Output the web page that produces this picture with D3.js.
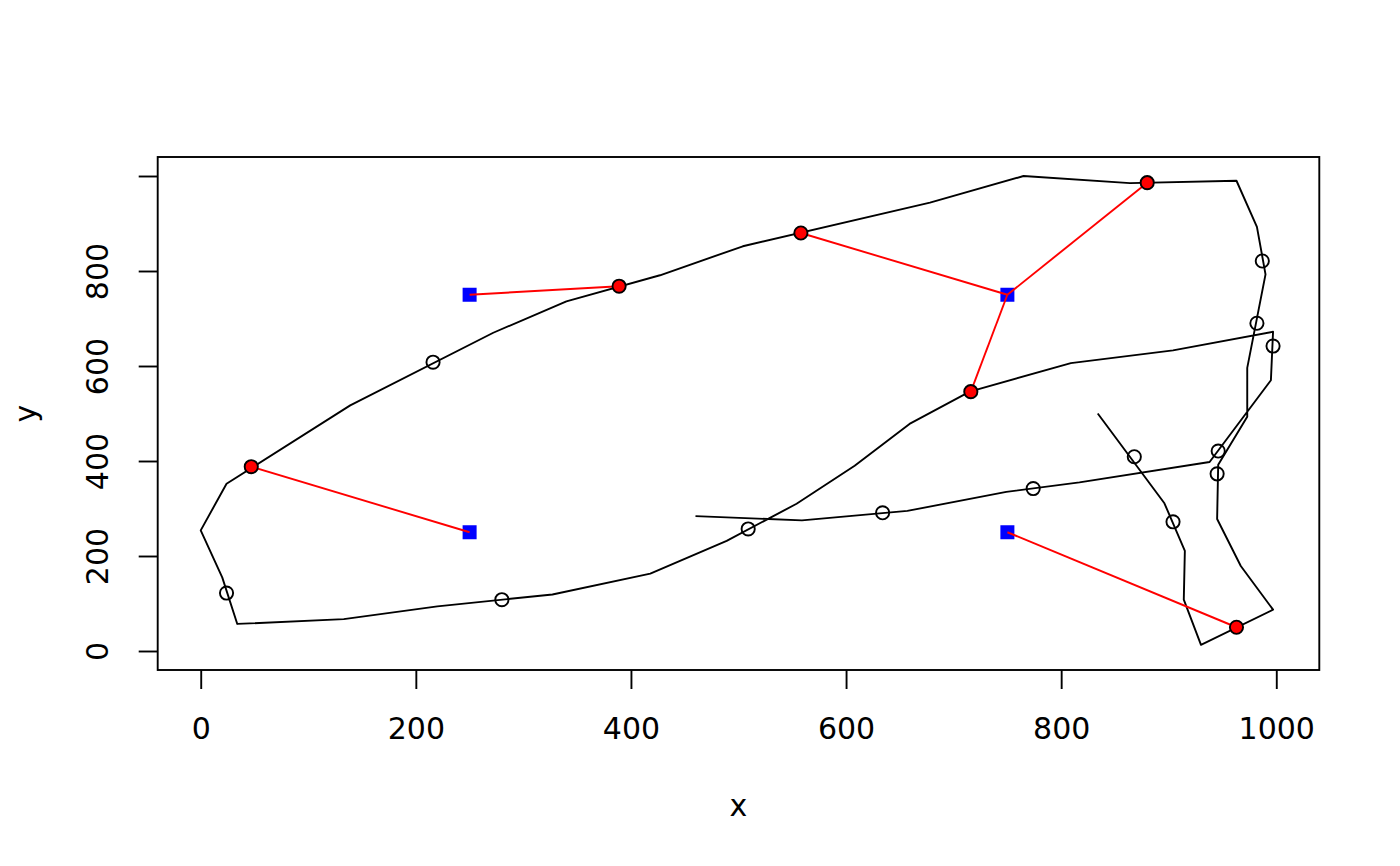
<!DOCTYPE html>
<html>
<head>
<meta charset="utf-8">
<script src="https://cdn.jsdelivr.net/npm/d3@7"></script>
<style>
	body { margin: 0; background: #fff; }
	svg text { font-family: "DejaVu Sans", sans-serif; font-size: 30px; fill: #000; }
</style>
</head>
<body>
<div id="chart"></div>
<script>
// the line, in drawing order
let pathX = [460, 559, 657, 749, 817, 938, 995, 997, 904, 809, 715, 659, 608, 554, 489, 418, 327, 220, 133, 34, 20, 0, 24, 139, 272, 340, 427, 504, 678, 765, 864, 963, 982, 990, 973, 973, 946, 945, 967, 997, 930, 914, 915, 896, 834];
let pathY = [284, 275, 295, 335, 355, 398, 570, 672, 633, 606, 546, 478, 390, 310, 232, 163, 119, 94, 67, 57, 155, 254, 352, 517, 670, 736, 791, 852, 944, 1000, 985, 990, 893, 793, 596, 493, 392, 278, 179, 87, 13, 108, 211, 311, 500];

// open circles sampled along the line
let sampleX = [634, 774, 946, 997, 509, 280, 24, 216, 987, 982, 945, 904, 868];
let sampleY = [291, 342, 421, 642, 257, 108, 122, 608, 821, 690, 373, 272, 409];

// query points (blue squares)
let queryX = [250, 250, 750, 750];
let queryY = [250, 750, 250, 750];

// nearest points on the line (red) and the query each one belongs to
let nearX = [47, 389, 963, 558, 716, 880];
let nearY = [388, 768, 50, 880, 546, 986];
let nearFrom = [0, 1, 2, 3, 3, 3];

let xTicks = [0, 200, 400, 600, 800, 1000];
let yTicks = [0, 200, 400, 600, 800, 1000];
// R drops the top y label, it would run past the box
let yLabelled = [0, 200, 400, 600, 800];

let WIDTH = 1400;
let HEIGHT = 866;
let LEFT = 157.7;
let RIGHT = 1319.3;
let TOP = 157;
let BOTTOM = 670;
let LWD = 1.9;

let svg = d3.select('#chart').append('svg')
	.attr('width', WIDTH)
	.attr('height', HEIGHT);

let x = d3.scaleLinear().domain([-40, 1040]).range([LEFT, RIGHT]);
let y = d3.scaleLinear().domain([-40, 1040]).range([BOTTOM, TOP]);

let path = pathX.map((d, i) => [d, pathY[i]]);
let line = d3.line().x(d => x(d[0])).y(d => y(d[1]));

svg.append('path')
	.attr('d', line(path))
	.attr('fill', 'none')
	.attr('stroke', '#000')
	.attr('stroke-width', LWD)
	.attr('stroke-linejoin', 'round');

svg.append('g').selectAll('circle')
	.data(sampleX.map((d, i) => [d, sampleY[i]]))
	.enter().append('circle')
	.attr('cx', d => x(d[0]))
	.attr('cy', d => y(d[1]))
	.attr('r', 6.6)
	.attr('fill', 'none')
	.attr('stroke', '#000')
	.attr('stroke-width', LWD);

let SQ = 14;
svg.append('g').selectAll('rect')
	.data(queryX.map((d, i) => [d, queryY[i]]))
	.enter().append('rect')
	.attr('x', d => x(d[0]) - SQ / 2)
	.attr('y', d => y(d[1]) - SQ / 2)
	.attr('width', SQ)
	.attr('height', SQ)
	.attr('fill', '#0000ff');

let near = nearX.map((d, i) => ({x: d, y: nearY[i], q: nearFrom[i]}));

svg.append('g').selectAll('line')
	.data(near)
	.enter().append('line')
	.attr('x1', d => x(queryX[d.q]))
	.attr('y1', d => y(queryY[d.q]))
	.attr('x2', d => x(d.x))
	.attr('y2', d => y(d.y))
	.attr('stroke', '#ff0000')
	.attr('stroke-width', LWD);

svg.append('g').selectAll('circle')
	.data(near)
	.enter().append('circle')
	.attr('cx', d => x(d.x))
	.attr('cy', d => y(d.y))
	.attr('r', 6.6)
	.attr('fill', '#ff0000')
	.attr('stroke', '#000')
	.attr('stroke-width', LWD);

// axes, R style: ticks only on the labelled range, no domain line
let xAxis = svg.append('g')
	.attr('transform', `translate(0,${BOTTOM})`)
	.call(d3.axisBottom(x).tickValues(xTicks).tickSize(19).tickFormat(d3.format('d')));
xAxis.select('.domain').remove();
xAxis.selectAll('line').attr('stroke-width', LWD);
xAxis.selectAll('text')
	.attr('y', 69)
	.attr('dy', null)
	.attr('font-size', null)
	.attr('font-family', null);

let yAxis = svg.append('g')
	.attr('transform', `translate(${LEFT},0)`)
	.call(d3.axisLeft(y).tickValues(yTicks).tickSize(19)
		.tickFormat(d => yLabelled.includes(d) ? d3.format('d')(d) : ''));
yAxis.select('.domain').remove();
yAxis.selectAll('line').attr('stroke-width', LWD);
yAxis.selectAll('text')
	.attr('x', null)
	.attr('dy', null)
	.attr('font-size', null)
	.attr('font-family', null)
	.attr('text-anchor', 'middle')
	.attr('transform', 'translate(-49.4,0) rotate(-90)');

svg.append('rect')
	.attr('x', LEFT)
	.attr('y', TOP)
	.attr('width', RIGHT - LEFT)
	.attr('height', BOTTOM - TOP)
	.attr('fill', 'none')
	.attr('stroke', '#000')
	.attr('stroke-width', LWD);

svg.append('text')
	.attr('x', (LEFT + RIGHT) / 2)
	.attr('y', 816)
	.attr('text-anchor', 'middle')
	.text('x');

svg.append('text')
	.attr('transform', `translate(36,${(TOP + BOTTOM) / 2}) rotate(-90)`)
	.attr('text-anchor', 'middle')
	.text('y');
</script>
</body>
</html>
